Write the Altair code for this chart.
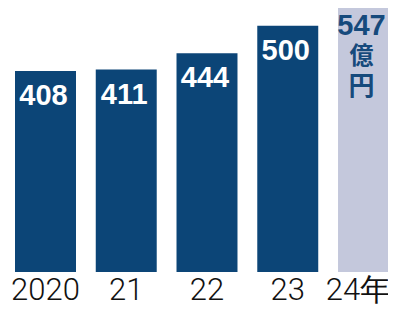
import altair as alt
import pandas as pd

years = ["2020", "21", "22", "23", "24年"]
values = [408, 411, 444, 500, 547]
kinds = ["actual", "actual", "actual", "actual", "plan"]
unit_chars = ["億", "円"]

df = pd.DataFrame({"year": years, "value": values, "kind": kinds})
df["label"] = df["value"].astype(str)

x = alt.X(
    "year:N",
    sort=years,
    scale=alt.Scale(range=[7, 391], paddingInner=0.245, paddingOuter=0),
    axis=alt.Axis(
        title=None, labelAngle=0, ticks=False, domain=False, grid=False,
        labelFont="Roboto", labelFontWeight=300, labelFontSize=31, labelColor="#111111",
        labelPadding=3, labelOverlap=False, labelBound=False, labelFlush=False,
        labelOffset={"condition": {"test": "datum.value == '24年'", "value": -10}, "value": 0},
    ),
)
y = alt.Y("value:Q", scale=alt.Scale(domain=[0, 536], nice=False, zero=True), axis=None)

base = alt.Chart(df)

bars = base.mark_bar(clip=True).encode(
    x=x,
    y=y,
    color=alt.Color(
        "kind:N",
        scale=alt.Scale(domain=["actual", "plan"], range=["#0c4577", "#c4c8dc"]),
        legend=None,
    ),
)

labels = base.transform_filter(alt.datum.kind == "actual").mark_text(
    color="white", font="Liberation Sans", fontWeight="bold", fontSize=29,
    baseline="alphabetic", dy=34, dx=-2,
).encode(x=x, y=y, text="label:N")

plan_num = base.transform_filter(alt.datum.kind == "plan").mark_text(
    color="#164a7c", font="Liberation Sans", fontWeight="bold", fontSize=29,
    baseline="alphabetic", dy=32, dx=-7,
).encode(x=x, y=y, text="label:N")

plan_u1 = base.transform_filter(alt.datum.kind == "plan").transform_calculate(
    u=f"'{unit_chars[0]}'"
).mark_text(
    color="#164a7c", font="Noto Sans CJK JP", fontWeight="bold", fontSize=24,
    baseline="middle", dy=54, dx=-7,
).encode(x=x, y=y, text="u:N")

plan_u2 = base.transform_filter(alt.datum.kind == "plan").transform_calculate(
    u=f"'{unit_chars[1]}'"
).mark_text(
    color="#164a7c", font="Noto Sans CJK JP", fontWeight="bold", fontSize=26,
    baseline="middle", dy=84, dx=-7,
).encode(x=x, y=y, text="u:N")

chart = alt.layer(bars, labels, plan_num, plan_u1, plan_u2).properties(
    width=380, height=264,
    autosize=alt.AutoSizeParams(type="none"),
    padding={"left": 0, "right": 0, "top": 0, "bottom": 34},
).configure_view(stroke=None)

chart.save("out.html", embed_options={"renderer": "svg", "actions": False})
